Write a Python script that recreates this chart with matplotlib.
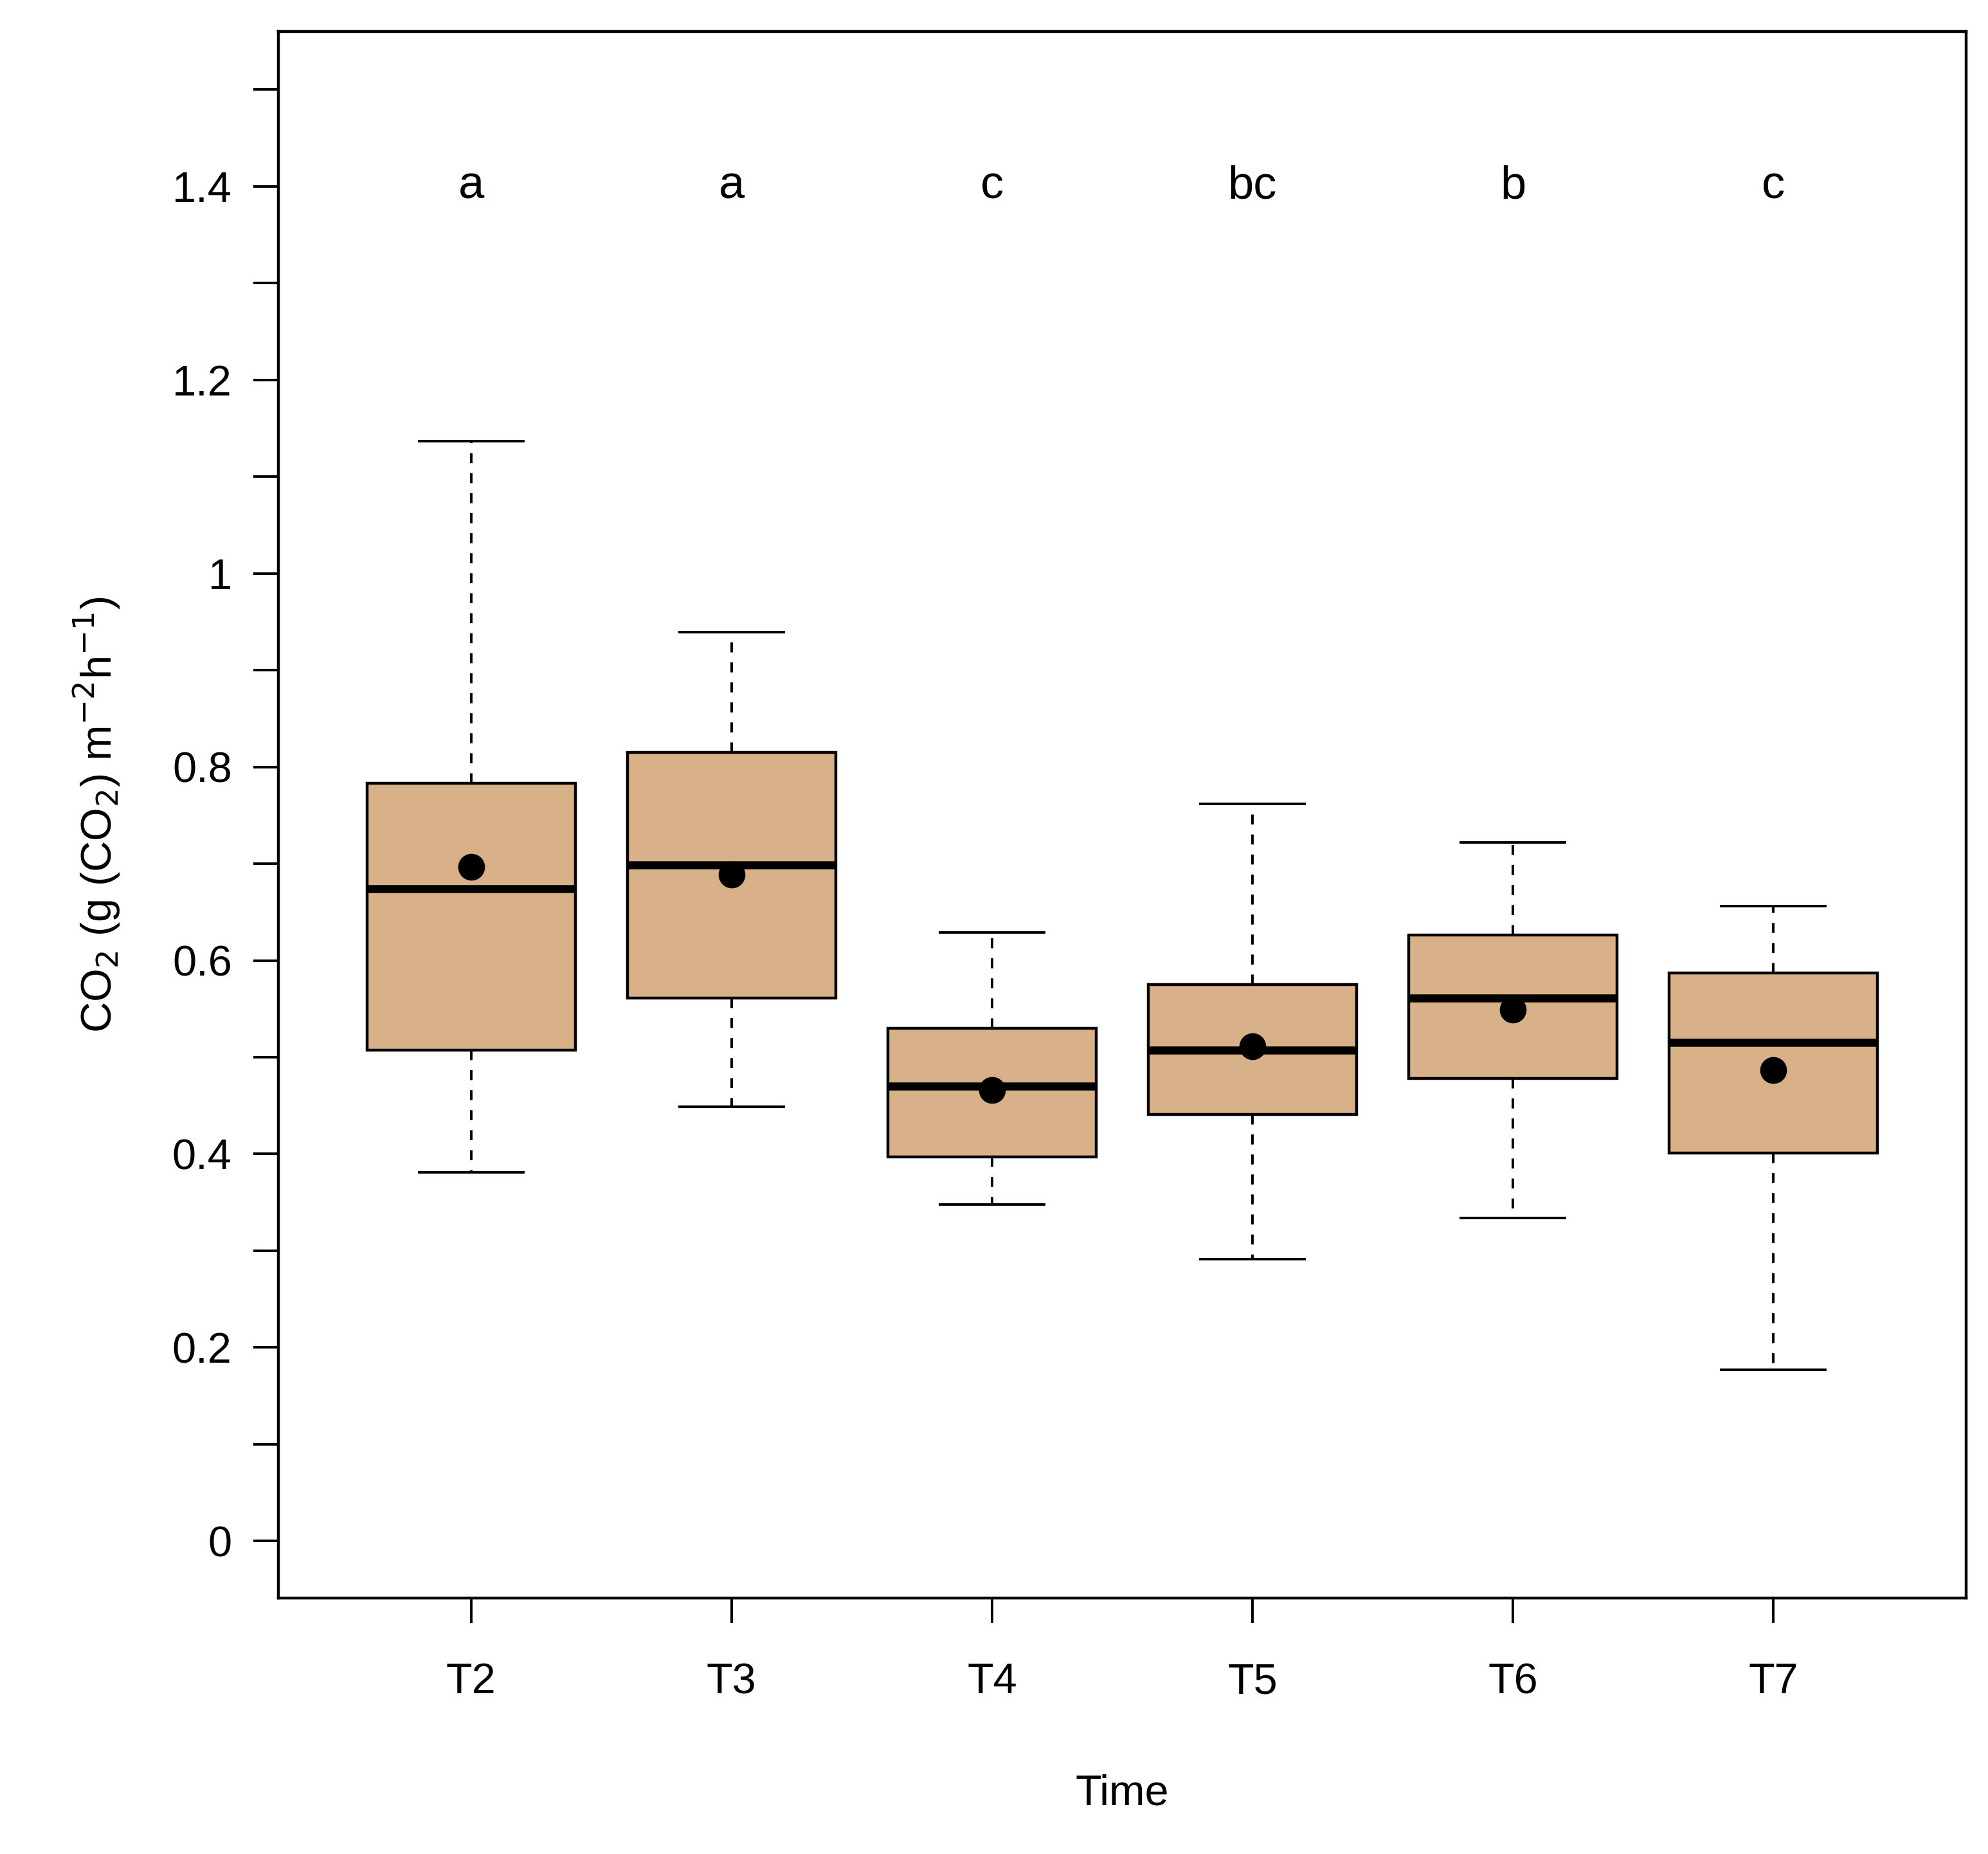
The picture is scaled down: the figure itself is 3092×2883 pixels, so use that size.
import matplotlib
matplotlib.use("Agg")
import matplotlib.pyplot as plt
import numpy as np

plt.rcParams["font.family"] = "Liberation Sans"

times = ["T2", "T3", "T4", "T5", "T6", "T7"]
whisker_low = [0.381, 0.449, 0.348, 0.291, 0.334, 0.177]
q1 = [0.507, 0.561, 0.397, 0.441, 0.478, 0.401]
medians = [0.674, 0.699, 0.470, 0.507, 0.561, 0.515]
q3 = [0.783, 0.815, 0.530, 0.575, 0.626, 0.587]
whisker_high = [1.137, 0.939, 0.629, 0.762, 0.722, 0.656]
means = [0.697, 0.689, 0.466, 0.511, 0.549, 0.487]
letters = ["a", "a", "c", "bc", "b", "c"]

stats = []
for i in range(len(times)):
    stats.append({"whislo": whisker_low[i], "q1": q1[i], "med": medians[i],
                  "q3": q3[i], "whishi": whisker_high[i], "fliers": []})

fig = plt.figure(figsize=(15.46, 14.415), dpi=200)
ax = fig.add_axes([0.140, 0.138, 0.849, 0.845])
pos = np.arange(1, len(times) + 1)
ax.bxp(stats, positions=pos, widths=0.8, patch_artist=True, showfliers=False,
       boxprops=dict(facecolor="#d9b188", edgecolor="black", linewidth=1.6),
       medianprops=dict(color="black", linewidth=4.5, solid_capstyle="butt"),
       whiskerprops=dict(color="black", linewidth=1.4, linestyle=(0, (4, 4))),
       capprops=dict(color="black", linewidth=1.4),
       capwidths=0.4)
ax.plot(pos, means, "o", color="black", markersize=14, zorder=5)
for p, t in zip(pos, letters):
    ax.text(p, 1.4, t, ha="center", va="center", fontsize=26)

ax.set_xlim(0.26, 6.74)
ax.set_ylim(-0.059, 1.56)
ax.set_xticks(pos)
ax.set_xticklabels(times)
ax.set_yticks(np.arange(0, 1.41, 0.2))
ax.set_yticklabels(["0", "0.2", "0.4", "0.6", "0.8", "1", "1.2", "1.4"])
ax.set_yticks(np.arange(0.1, 1.51, 0.2), minor=True)
ax.tick_params(axis="both", which="major", labelsize=24, length=14, width=1.4, pad=12)
ax.tick_params(axis="x", pad=22)
ax.tick_params(axis="y", which="minor", length=14, width=1.4)
for s in ax.spines.values():
    s.set_linewidth(1.6)
ax.set_xlabel("Time", fontsize=24, labelpad=40)
ax.set_ylabel(r"CO$_2$ (g (CO$_2$) m$^{-2}$h$^{-1}$)", fontsize=24, labelpad=28)
fig.savefig("out.png", dpi=200)
